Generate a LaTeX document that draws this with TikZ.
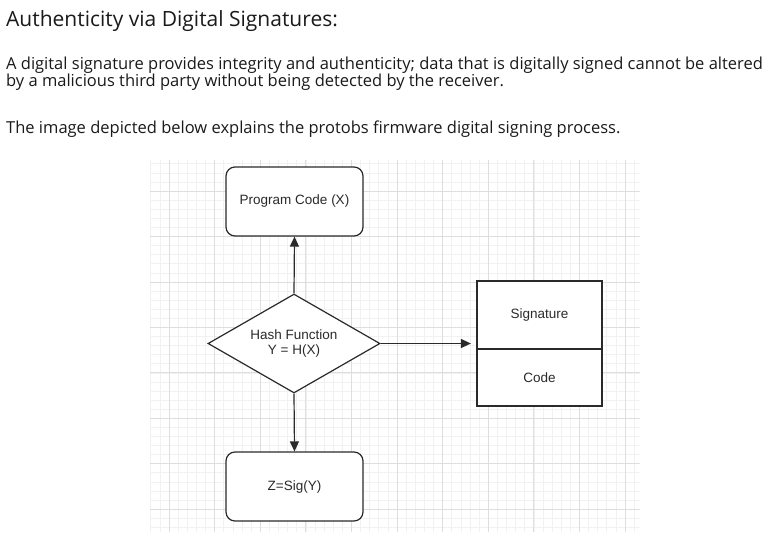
\documentclass[tikz,border=0pt]{standalone}
\usepackage{fontspec}
\setmainfont{Open Sans}
\newfontfamily\diafont{Liberation Sans}
\usetikzlibrary{shapes.geometric,arrows.meta}
\definecolor{gridminor}{HTML}{F1F1F1}
\definecolor{gridmajor}{HTML}{DEDEDE}
\definecolor{ink}{HTML}{2A2A2A}
\definecolor{txt}{HTML}{1A1A1A}
\tikzset{
  para/.style={anchor=base west, inner sep=0pt, text=txt, font=\fontsize{16.5}{19}\selectfont},
  roundbox/.style={draw=ink, line width=1.2pt, rounded corners=9pt, fill=white, minimum width=137pt, minimum height=69pt, inner sep=0pt, text=ink, font=\diafont\fontsize{13.5}{15}\selectfont},
  plainbox/.style={draw=ink, line width=1.2pt, fill=white, minimum width=125pt, inner sep=0pt, text=ink, font=\diafont\fontsize{13.5}{15}\selectfont},
  decision/.style={draw=ink, line width=1.2pt, diamond, aspect=1.737, fill=white, minimum width=172pt, minimum height=99pt, inner sep=0pt, text=ink, align=center, font=\diafont\fontsize{13.5}{14.5}\selectfont},
  flow/.style={draw=ink, line width=1.2pt, -{Triangle[length=10pt,width=9pt]}}
}
\begin{document}
\begin{tikzpicture}[x=1pt,y=-1pt]
\useasboundingbox (0,0) rectangle (775,557);
\fill[white] (0,0) rectangle (775,557);
% text
\node[para, font=\fontsize{21}{24}\selectfont] (title) at (6,26) {Authenticity via Digital Signatures:};
\node[para] (l1) at (6,69) {A digital signature provides integrity and authenticity; data that is digitally signed cannot be altered};
\node[para] (l2) at (6,86) {by a malicious third party without being detected by the receiver.};
\node[para] (l3) at (6,133) {The image depicted below explains the protobs firmware digital signing process.};
% grid
\begin{scope}
\clip (150,160) rectangle (640,532);
\foreach \i in {-3,...,54} { \draw[gridminor, line width=0.6pt] ({169+9.12*\i},160) -- ({169+9.12*\i},532); }
\foreach \i in {-4,...,38} { \draw[gridminor, line width=0.6pt] (150,{191+9.09*\i}) -- (640,{191+9.09*\i}); }
\foreach \i in {0,...,10} { \draw[gridmajor, line width=0.8pt] ({169+45.6*\i},160) -- ({169+45.6*\i},532); }
\foreach \i in {0,...,7} { \draw[gridmajor, line width=0.8pt] (150,{191+45.45*\i}) -- (640,{191+45.45*\i}); }
\end{scope}
% nodes
\node[roundbox] (prog) at (294.5,201.5) {Program Code (X)};
\node[decision] (hash) at (294,343.5) {Hash Function\\Y = H(X)};
\node[roundbox] (sig) at (294.5,486.5) {Z=Sig(Y)};
\node[plainbox, minimum height=68pt] (sigpart) at (539.5,315) {Signature};
\node[plainbox, minimum height=57pt] (codepart) at (539.5,377.5) {Code};
% connectors
\draw[flow] (hash.north) -- (prog.south);
\draw[flow] (hash.south) -- (sig.north);
\draw[flow, shorten >=5.5pt] (hash.east) -- (hash.east -| sigpart.west);
\end{tikzpicture}
\end{document}
